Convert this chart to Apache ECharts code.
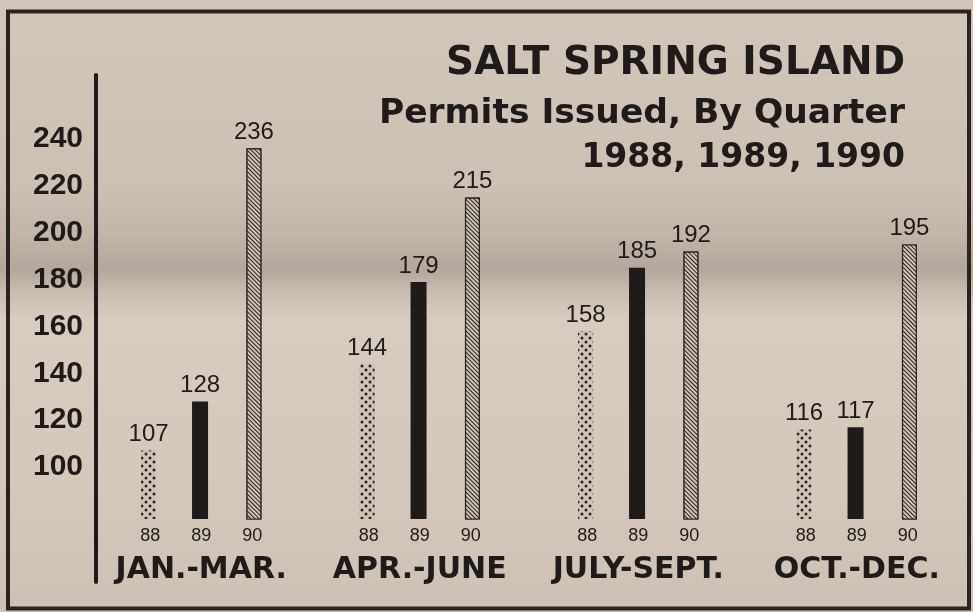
<!DOCTYPE html>
<html>
<head>
<meta charset="utf-8">
<script src="https://cdn.jsdelivr.net/npm/echarts@6/dist/echarts.min.js"></script>
<style>
html,body{margin:0;padding:0;background:#d3c7ba;}
#c{width:973px;height:612px;}
</style>
</head>
<body>
<div id="c"></div>
<script>
// ---- data ----
const quarters = ['JAN.-MAR.', 'APR.-JUNE', 'JULY-SEPT.', 'OCT.-DEC.'];
const years = ['88', '89', '90'];
const permits1988 = [107, 144, 158, 116];
const permits1989 = [128, 179, 185, 117];
const permits1990 = [236, 215, 192, 195];
const yTickLabels = [100, 120, 140, 160, 180, 200, 220, 240];

const INK = '#1f1b1a';
const PAPER = '#cfc3b6';

const chart = echarts.init(document.getElementById('c'), null, {renderer: 'canvas', width: 973, height: 612});

const bg = new echarts.graphic.LinearGradient(0, 0, 0, 1, [
  {offset: 0.00, color: '#d2c6b9'},
  {offset: 0.30, color: '#cdc1b4'},
  {offset: 0.38, color: '#c3b6a9'},
  {offset: 0.44, color: '#b3a79b'},
  {offset: 0.48, color: '#cabeb1'},
  {offset: 0.52, color: '#d8ccbf'},
  {offset: 0.80, color: '#d4c8bb'},
  {offset: 1.00, color: '#cdc1b4'}
]);

const labelTop = {
  show: true, position: 'top', distance: 4,
  fontFamily: 'Liberation Sans', fontSize: 24, color: INK
};

function barSeries(name, data, style, width) {
  return {
    name: name, type: 'bar', xAxisIndex: 0, yAxisIndex: 0,
    data: data, barWidth: width, barGap: '240%',
    itemStyle: style, label: labelTop,
    emphasis: {disabled: true}, animation: false
  };
}

const option = {
  backgroundColor: bg,
  animation: false,
  title: {
    text: 'SALT SPRING ISLAND',
    subtext: '{a|Permits Issued, By Quarter}\n{b|1988, 1989, 1990}',
    left: 900, top: 39, textAlign: 'right', itemGap: 8,
    textStyle: {fontFamily: 'DejaVu Sans', fontWeight: 'bold', fontSize: 39, lineHeight: 40, color: INK},
    subtextStyle: {
      fontFamily: 'DejaVu Sans', fontWeight: 'bold', fontSize: 34, lineHeight: 44, color: INK,
      rich: {
        a: {fontFamily: 'DejaVu Sans', fontWeight: 'bold', fontSize: 34.5, lineHeight: 44, color: INK},
        b: {fontFamily: 'DejaVu Sans', fontWeight: 'bold', fontSize: 33, lineHeight: 44, color: INK}
      }
    }
  },
  grid: [
    {left: 92, right: 7, top: 92.1, bottom: 93, containLabel: false},
    {left: 96, right: 7, top: 92.1, bottom: 98.1, containLabel: false},
    {left: 96, right: 7, top: 75, bottom: 30, containLabel: false}
  ],
  xAxis: [
    {
      type: 'category', gridIndex: 0, data: quarters,
      axisLine: {show: false}, axisTick: {show: false}, splitLine: {show: false},
      axisLabel: {
        interval: 0, margin: 6, color: INK,
        formatter: function (q) {
          return years.map(y => '{y|' + y + '}').join('') + '\n{q|' + q + '}';
        },
        rich: {
          y: {fontFamily: 'Liberation Sans', fontSize: 18, lineHeight: 22, width: 51, align: 'center', color: INK},
          q: {fontFamily: 'DejaVu Sans', fontWeight: 'bold', fontSize: 30, lineHeight: 46, color: INK}
        }
      }
    },
    {type: 'category', gridIndex: 1, data: quarters, show: false},
    {type: 'value', gridIndex: 2, show: false}
  ],
  yAxis: [
    {type: 'value', gridIndex: 0, min: 77.8, max: 260, show: false},
    {
      type: 'value', gridIndex: 1, min: 80, max: 260, interval: 20,
      axisLine: {show: false}, axisTick: {show: false}, splitLine: {show: false},
      axisLabel: {
        margin: 13, fontFamily: 'Liberation Sans', fontWeight: 'bold', fontSize: 30, color: INK,
        formatter: function (v) { return yTickLabels.indexOf(v) >= 0 ? String(v) : ''; }
      }
    },
    {
      type: 'value', gridIndex: 2, min: 0, max: 1,
      axisLine: {show: true, lineStyle: {color: INK, width: 4}},
      axisTick: {show: false}, axisLabel: {show: false}, splitLine: {show: false}
    }
  ],
  graphic: [
    {
      type: 'rect', silent: true, z: 100,
      shape: {x: 8, y: 11.5, width: 961, height: 597},
      style: {fill: null, stroke: '#2a2421', lineWidth: 4}
    }
  ],
  series: [
    barSeries('1988', permits1988, {
      color: PAPER,
      decal: {
        symbol: 'circle', symbolSize: 0.75, color: '#2a2421', backgroundColor: PAPER,
        dashArrayX: [[4, 4], [0, 4, 4, 0]], dashArrayY: [4, 0]
      }
    }, 15),
    barSeries('1989', permits1989, {color: INK}, 16),
    barSeries('1990', permits1990, {
      color: PAPER, borderColor: '#2a2421', borderWidth: 1.2,
      decal: {
        symbol: 'rect', symbolSize: 1, color: '#2a2421', backgroundColor: PAPER,
        dashArrayX: [1, 0], dashArrayY: [1, 2], rotation: Math.PI / 4
      }
    }, 15)
  ]
};

chart.setOption(option);
</script>
</body>
</html>
